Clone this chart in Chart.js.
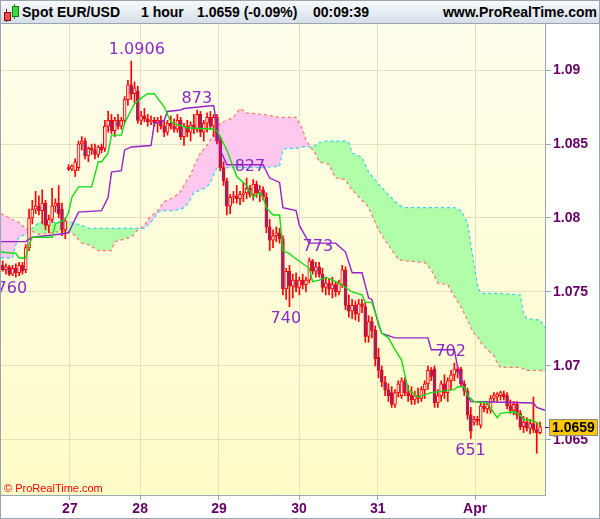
<!DOCTYPE html>
<html>
<head>
<meta charset="utf-8">
<script src="https://cdn.jsdelivr.net/npm/chart.js@4.4.1/dist/chart.umd.min.js"></script>
<style>
  html, body { margin: 0; padding: 0; background: #fff; }
  #wrap { position: relative; width: 600px; height: 519px; border: 1px solid #9aa5b0; box-sizing: border-box; overflow: hidden;
          font-family: "Liberation Sans", Arial, sans-serif; }
  #hdr { position: absolute; left: 0; top: 0; width: 598px; height: 22px; border-bottom: 1px solid #9aa5b0;
         background: linear-gradient(#f7fafc, #d5dfe9); }
  #hdr span.t { position: absolute; top: 3px; font-weight: bold; font-size: 14px; line-height: 16px; color: #000; white-space: nowrap; }
  #hdr i { position: absolute; display: block; }
  #plot { position: absolute; left: 0; top: 23px; width: 598px; height: 494px; }
  #copy { position: absolute; left: 3px; top: 481px; font-size: 11px; line-height: 13px; color: #ff0000; }
</style>
</head>
<body>
<div id="wrap">
  <div id="hdr">
    <i style="left:5px;top:8px;width:1px;height:13px;background:#8a1010"></i>
    <i style="left:3px;top:11px;width:5px;height:7px;background:#ef4b4b;border:1px solid #8a1010"></i>
    <i style="left:13px;top:3px;width:1px;height:15px;background:#137a13"></i>
    <i style="left:11px;top:5px;width:5px;height:9px;background:#3ddc3d;border:1px solid #137a13"></i>
    <span class="t" style="left:21px">Spot EUR/USD</span>
    <span class="t" style="left:140px">1 hour</span>
    <span class="t" style="left:196px">1.0659 (-0.09%)</span>
    <span class="t" style="left:312px">00:09:39</span>
    <span class="t" style="right:2px">www.ProRealTime.com</span>
  </div>
  <div id="plot"><canvas id="c" width="598" height="494"></canvas></div>
  <div id="copy">© ProRealTime.com</div>
</div>
<script>
// hourly candles, index 0..163
const opens  = [1.0768,1.0765,1.0767,1.0762,1.0766,1.0763,1.0768,1.0765,1.0780,1.0800,1.0806,1.0808,1.0805,1.0810,1.0795,1.0799,1.0808,1.0810,1.0806,1.0792,
  1.0834,1.0833,1.0832,1.0834,1.0850,1.0852,1.0842,1.0847,1.0846,1.0843,1.0848,1.0847,1.0862,1.0866,1.0859,1.0866,1.0862,1.0866,1.0880,1.0890,
  1.0884,1.0886,1.0866,1.0869,1.0867,1.0865,1.0866,1.0864,1.0866,1.0862,1.0858,1.0864,1.0862,1.0860,1.0866,1.0855,1.0862,1.0858,1.0863,1.0860,
  1.0870,1.0858,1.0864,1.0868,1.0862,1.0868,1.0852,1.0834,1.0825,1.0808,1.0814,1.0815,1.0813,1.0816,1.0817,1.0820,1.0816,1.0823,1.0817,1.0819,
  1.0814,1.0794,1.0785,1.0788,1.0790,1.0786,1.0752,1.0764,1.0754,1.0758,1.0753,1.0758,1.0755,1.0758,1.0771,1.0764,1.0767,1.0762,1.0753,1.0756,
  1.0752,1.0755,1.0750,1.0755,1.0765,1.0741,1.0737,1.0741,1.0735,1.0742,1.0740,1.0720,1.0730,1.0724,1.0706,1.0697,1.0689,1.0684,1.0682,1.0674,
  1.0682,1.0680,1.0690,1.0682,1.0680,1.0677,1.0680,1.0678,1.0684,1.0688,1.0697,1.0698,1.0675,1.0680,1.0688,1.0682,1.0690,1.0694,1.0698,1.0698,
  1.0688,1.0683,1.0667,1.0662,1.0664,1.0660,1.0673,1.0671,1.0670,1.0678,1.0679,1.0680,1.0681,1.0680,1.0673,1.0670,1.0674,1.0668,1.0659,1.0662,
  1.0658,1.0661,1.0657,1.0655];
const highs  = [1.0771,1.0769,1.0768,1.0768,1.0769,1.0770,1.0770,1.0782,1.0806,1.0812,1.0818,1.0815,1.0819,1.0812,1.0802,1.0820,1.0813,1.0822,1.0810,1.0800,
  1.0836,1.0836,1.0840,1.0852,1.0855,1.0854,1.0848,1.0850,1.0850,1.0849,1.0850,1.0866,1.0872,1.0870,1.0868,1.0870,1.0868,1.0882,1.0893,1.0906,
  1.0892,1.0889,1.0872,1.0874,1.0870,1.0869,1.0868,1.0868,1.0869,1.0866,1.0866,1.0869,1.0867,1.0870,1.0868,1.0864,1.0866,1.0865,1.0870,1.0873,
  1.0872,1.0866,1.0871,1.0872,1.0870,1.0870,1.0855,1.0838,1.0827,1.0816,1.0818,1.0822,1.0818,1.0824,1.0827,1.0822,1.0826,1.0825,1.0822,1.0821,
  1.0817,1.0799,1.0792,1.0794,1.0793,1.0788,1.0766,1.0768,1.0762,1.0763,1.0760,1.0762,1.0760,1.0773,1.0772,1.0770,1.0770,1.0766,1.0760,1.0759,
  1.0760,1.0757,1.0758,1.0768,1.0767,1.0748,1.0745,1.0744,1.0745,1.0745,1.0743,1.0734,1.0733,1.0727,1.0712,1.0700,1.0693,1.0688,1.0686,1.0684,
  1.0690,1.0692,1.0692,1.0687,1.0686,1.0683,1.0685,1.0686,1.0690,1.0700,1.0699,1.0700,1.0684,1.0690,1.0694,1.0692,1.0697,1.0702,1.0700,1.0699,
  1.0690,1.0685,1.0672,1.0666,1.0666,1.0675,1.0675,1.0676,1.0680,1.0682,1.0682,1.0683,1.0683,1.0682,1.0677,1.0676,1.0676,1.0670,1.0666,1.0665,
  1.0664,1.0679,1.0662,1.0662];
const lows   = [1.0764,1.0762,1.0761,1.0761,1.0760,1.0761,1.0762,1.0763,1.0778,1.0796,1.0803,1.0802,1.0796,1.0792,1.0790,1.0797,1.0804,1.0800,1.0788,1.0786,
  1.0832,1.0832,1.0828,1.0832,1.0846,1.0840,1.0838,1.0843,1.0840,1.0841,1.0844,1.0845,1.0858,1.0857,1.0855,1.0860,1.0860,1.0864,1.0876,1.0880,
  1.0878,1.0864,1.0863,1.0865,1.0862,1.0863,1.0862,1.0858,1.0860,1.0855,1.0856,1.0860,1.0858,1.0858,1.0853,1.0849,1.0855,1.0852,1.0857,1.0858,
  1.0855,1.0852,1.0858,1.0860,1.0855,1.0850,1.0832,1.0822,1.0802,1.0803,1.0810,1.0810,1.0809,1.0811,1.0813,1.0814,1.0812,1.0814,1.0811,1.0812,
  1.0790,1.0778,1.0780,1.0784,1.0783,1.0748,1.0745,1.0740,1.0746,1.0750,1.0748,1.0752,1.0750,1.0756,1.0762,1.0760,1.0760,1.0750,1.0748,1.0748,
  1.0746,1.0747,1.0748,1.0753,1.0738,1.0733,1.0732,1.0731,1.0730,1.0736,1.0716,1.0716,1.0719,1.0700,1.0692,1.0686,1.0680,1.0676,1.0672,1.0672,
  1.0679,1.0678,1.0680,1.0676,1.0674,1.0674,1.0675,1.0676,1.0678,1.0684,1.0690,1.0672,1.0672,1.0676,1.0678,1.0676,1.0684,1.0690,1.0692,1.0686,
  1.0680,1.0664,1.0651,1.0660,1.0660,1.0658,1.0669,1.0668,1.0668,1.0676,1.0676,1.0677,1.0677,1.0671,1.0668,1.0667,1.0664,1.0657,1.0655,1.0656,
  1.0654,1.0655,1.0641,1.0654];
const closes = [1.0765,1.0767,1.0762,1.0766,1.0763,1.0768,1.0764,1.0780,1.0800,1.0806,1.0808,1.0805,1.0810,1.0795,1.0799,1.0808,1.0810,1.0803,1.0792,1.0798,
  1.0833,1.0835,1.0838,1.0850,1.0852,1.0842,1.0847,1.0846,1.0843,1.0848,1.0846,1.0862,1.0866,1.0859,1.0866,1.0862,1.0866,1.0880,1.0890,1.0884,
  1.0888,1.0866,1.0869,1.0867,1.0865,1.0866,1.0864,1.0866,1.0862,1.0858,1.0864,1.0862,1.0860,1.0866,1.0855,1.0862,1.0858,1.0863,1.0860,1.0870,
  1.0858,1.0864,1.0868,1.0862,1.0868,1.0852,1.0834,1.0825,1.0808,1.0814,1.0815,1.0813,1.0816,1.0817,1.0820,1.0816,1.0823,1.0817,1.0819,1.0814,
  1.0794,1.0785,1.0788,1.0790,1.0786,1.0752,1.0764,1.0754,1.0758,1.0753,1.0758,1.0755,1.0758,1.0771,1.0764,1.0767,1.0762,1.0753,1.0756,1.0752,
  1.0755,1.0750,1.0756,1.0765,1.0741,1.0737,1.0741,1.0735,1.0742,1.0740,1.0720,1.0730,1.0724,1.0705,1.0697,1.0689,1.0684,1.0680,1.0674,1.0682,
  1.0688,1.0690,1.0682,1.0680,1.0677,1.0680,1.0678,1.0684,1.0688,1.0697,1.0693,1.0675,1.0680,1.0688,1.0682,1.0690,1.0694,1.0698,1.0696,1.0688,
  1.0683,1.0667,1.0656,1.0664,1.0663,1.0673,1.0671,1.0674,1.0678,1.0680,1.0681,1.0682,1.0679,1.0673,1.0670,1.0674,1.0667,1.0659,1.0662,1.0658,
  1.0661,1.0657,1.0655,1.0659];

// Ichimoku lines (candle index, price)
const kijunIdx = [-0.5,7,9,17,20,23,30,32,33,36,37,39,45,46,49,50,54,55,64,65,66,68,79,81,84,85,89,90,93,101,104,106,109,111,112,114,115,119,129,130,137,138,140,142,161,162,164.5];
const kijunVal = [1.0784,1.0784,1.0787,1.0789,1.0790,1.0804,1.0805,1.0814,1.0831,1.0832,1.0846,1.0848,1.0849,1.0864,1.0866,1.0872,1.0873,1.0874,1.0876,1.0863,1.0846,1.0836,1.0836,1.0827,1.0824,1.0807,1.0805,1.0795,1.0783,1.0783,1.0777,1.0763,1.0763,1.0746,1.0745,1.0728,1.0722,1.0719,1.0719,1.0711,1.0711,1.0699,1.0685,1.0676,1.0675,1.0672,1.0670];
const tenkanIdx = [-0.5,4,5,7,8,9,15,16,19,20,21,23,27,29,30,32,33,36,37,39,40,42,44,46,47,49,50,51,53,56,64,65,66,68,71,74,76,77,78,79,80,82,84,85,87,88,93,94,96,98,100,102,106,109,110,112,114,115,117,119,121,123,126,130,137,138,140,141,143,147,150,151,155,157,158,161,163];
const tenkanVal = [1.0777,1.0776,1.0773,1.0773,1.0782,1.0787,1.0787,1.0796,1.0799,1.0804,1.0814,1.0821,1.0821,1.0838,1.0838,1.0844,1.0856,1.0856,1.0864,1.0873,1.0877,1.0881,1.0884,1.0884,1.0881,1.0875,1.0870,1.0865,1.0863,1.0861,1.0860,1.0859,1.0855,1.0846,1.0828,1.0822,1.0814,1.0816,1.0817,1.0814,1.0807,1.0802,1.0802,1.0778,1.0776,1.0774,1.0766,1.0757,1.0758,1.0760,1.0758,1.0756,1.0750,1.0748,1.0743,1.0743,1.0729,1.0722,1.0719,1.0711,1.0704,1.0684,1.0679,1.0682,1.0684,1.0686,1.0686,1.0680,1.0676,1.0675,1.0665,1.0668,1.0669,1.0667,1.0664,1.0663,1.0660];
const cloudIdx = [-0.5,3,4,5,7,9,11,18,21,24,26,29,33,34,39,41,43,44,46,47,49,52,54,55,56,57,58,60,62,63,64,65,66,70,72,74,79,84,85,86,89,91,92,93,95,96,98,99,101,104,105,106,109,110,111,114,116,120,122,128,130,132,135,137,139,141,142,143,144,145,147,149,150,151,157,158,159,163,164.5];
const spanA = [1.0773,1.0773,1.0782,1.0787,1.0789,1.0793,1.0797,1.0797,1.0797,1.0795,1.0793,1.0793,1.0793,1.0793,1.0793,1.0793,1.0793,1.0795,1.0800,1.0804,1.0805,1.0805,1.0806,1.0807,1.0809,1.0813,1.0817,1.0819,1.0821,1.0824,1.0829,1.0834,1.0834,1.0834,1.0834,1.0834,1.0834,1.0835,1.0846,1.0847,1.0847,1.0848,1.0848,1.0848,1.0849,1.0851,1.0852,1.0852,1.0852,1.0852,1.0851,1.0844,1.0841,1.0836,1.0831,1.0823,1.0818,1.0809,1.0807,1.0807,1.0807,1.0807,1.0807,1.0807,1.0805,1.0797,1.0782,1.0768,1.0755,1.0749,1.0749,1.0749,1.0749,1.0749,1.0748,1.0735,1.0732,1.0731,1.0726];
const spanB = [1.0803,1.0799,1.0798,1.0797,1.0793,1.0791,1.0789,1.0791,1.0790,1.0783,1.0782,1.0778,1.0778,1.0784,1.0787,1.0792,1.0795,1.0799,1.0803,1.0805,1.0811,1.0814,1.0818,1.0822,1.0826,1.0829,1.0835,1.0844,1.0849,1.0853,1.0857,1.0861,1.0864,1.0868,1.0874,1.0871,1.0870,1.0868,1.0868,1.0868,1.0868,1.0860,1.0853,1.0849,1.0843,1.0838,1.0837,1.0836,1.0827,1.0826,1.0822,1.0819,1.0812,1.0810,1.0807,1.0792,1.0785,1.0772,1.0771,1.0770,1.0765,1.0756,1.0755,1.0747,1.0740,1.0731,1.0726,1.0722,1.0720,1.0716,1.0711,1.0707,1.0702,1.0699,1.0699,1.0698,1.0697,1.0697,1.0696];

// swing high / low annotations
const noteText  = ['760', '1.0906', '873', '827', '740', '773', '702', '651'];
const noteIdx   = [2.8, 40.7, 58.9, 75, 85.9, 95.6, 135.9, 141.9];
const notePrice = [1.0760, 1.0906, 1.0873, 1.0827, 1.0740, 1.0773, 1.0702, 1.0651];
const noteAbove = [false, true, true, true, false, true, true, false];

// axes
const dayIdx = [20.4, 41.7, 65.6, 89.9, 113.8, 143.3];
const dayLabels = ['27', '28', '29', '30', '31', 'Apr'];
const yTicks = [1.065, 1.07, 1.075, 1.08, 1.085, 1.09];
const yTickLabels = ['1.065', '1.07', '1.075', '1.08', '1.085', '1.09'];
const yMin = 1.06128, yMax = 1.09311;

const frame = '#9aa5b0';
const gridCol = '#e3dfbf';
const axisFont = { family: '"Liberation Sans", Arial, sans-serif', size: 14, weight: 'bold' };

const wickData = opens.map((o, i) => ({ x: i, y: [lows[i], highs[i]] }));
const bodyData = opens.map((o, i) => ({ x: i, y: [o, closes[i]] }));
const bodyFill = opens.map((o, i) => closes[i] >= o ? 'rgba(255,255,240,0.9)' : '#7d2a8e');
const pts = (xs, ys) => xs.map((x, k) => ({ x, y: ys[k] }));

const bgPlugin = {
  id: 'bg',
  beforeDraw(chart) {
    const { ctx, chartArea: a } = chart;
    const g = ctx.createLinearGradient(0, a.top, 0, a.bottom);
    g.addColorStop(0, '#fefeec');
    g.addColorStop(1, '#fffcc8');
    ctx.save();
    ctx.fillStyle = g;
    ctx.fillRect(a.left, a.top, a.right - a.left, a.bottom - a.top);
    ctx.restore();
  }
};

const notesPlugin = {
  id: 'notes',
  afterDatasetsDraw(chart) {
    const { ctx, chartArea: a, scales: { x, y } } = chart;
    ctx.save();
    ctx.beginPath();
    ctx.rect(a.left, a.top, a.right - a.left, a.bottom - a.top);
    ctx.clip();
    ctx.font = '16px "DejaVu Sans", sans-serif';
    ctx.fillStyle = '#8a2bc8';
    ctx.textAlign = 'center';
    ctx.textBaseline = 'middle';
    noteText.forEach((t, k) => {
      const py = y.getPixelForValue(notePrice[k]) + (noteAbove[k] ? -11 : 12);
      ctx.fillText(t, x.getPixelForValue(noteIdx[k]), py);
    });
    ctx.restore();
  },
  afterDraw(chart) {
    // last price tag on the right axis
    const { ctx, chartArea: a, scales: { y } } = chart;
    const last = closes[closes.length - 1];
    const py = Math.round(y.getPixelForValue(last)) + 0.5;
    ctx.save();
    ctx.strokeStyle = '#660066';
    ctx.beginPath(); ctx.moveTo(a.right, py); ctx.lineTo(a.right + 5, py); ctx.stroke();
    ctx.fillStyle = '#fbc800';
    ctx.fillRect(a.right + 4.5, py - 8, 48, 16);
    ctx.strokeStyle = '#8c8c8c';
    ctx.strokeRect(a.right + 4.5, py - 8, 48, 16);
    ctx.fillStyle = '#000';
    ctx.font = 'bold 14px "Liberation Sans", Arial, sans-serif';
    ctx.textAlign = 'left';
    ctx.textBaseline = 'middle';
    ctx.fillText(last.toFixed(4), a.right + 7, py + 1);
    ctx.restore();
  }
};

new Chart(document.getElementById('c'), {
  type: 'bar',
  data: {
    datasets: [
      { type: 'line', data: pts(cloudIdx, spanA), borderColor: '#2fd2f0', borderWidth: 1.2, borderDash: [3, 3],
        pointRadius: 0, order: 6, fill: { target: 1, above: '#b0ffa8', below: '#ffc8ee' } },
      { type: 'line', data: pts(cloudIdx, spanB), borderColor: '#ff7468', borderWidth: 1.2, borderDash: [3, 3],
        pointRadius: 0, order: 5, fill: false },
      { type: 'bar', data: wickData, backgroundColor: '#ff0000', borderWidth: 0, barThickness: 1, grouped: false, order: 4 },
      { type: 'bar', data: bodyData, backgroundColor: bodyFill, borderColor: '#ff0000', borderWidth: 1, borderSkipped: false,
        barThickness: 3, minBarLength: 1, grouped: false, order: 3 },
      { type: 'line', data: pts(kijunIdx, kijunVal), borderColor: '#9622cc', borderWidth: 1.4, pointRadius: 0, order: 2, fill: false },
      { type: 'line', data: pts(tenkanIdx, tenkanVal), borderColor: '#12dc12', borderWidth: 1.4, pointRadius: 0, order: 1, fill: false }
    ]
  },
  options: {
    responsive: false,
    animation: false,
    events: [],
    layout: { padding: 0 },
    plugins: { legend: { display: false }, tooltip: { enabled: false } },
    scales: {
      x: {
        type: 'linear', min: -0.5, max: 164.5, offset: false,
        afterBuildTicks: s => { s.ticks = dayIdx.map(v => ({ value: v })); },
        afterFit: s => { s.height = 23; s.paddingLeft = 0; s.paddingRight = 0; },
        ticks: { callback: (v, k) => dayLabels[k], font: axisFont, color: '#660066', padding: 1, maxRotation: 0, autoSkip: false },
        grid: { color: gridCol, offset: false, tickLength: 5, tickColor: frame },
        border: { color: frame }
      },
      y: {
        position: 'right', min: yMin, max: yMax,
        afterBuildTicks: s => { s.ticks = yTicks.map(v => ({ value: v })); },
        afterFit: s => { s.width = 54; s.paddingTop = 0; s.paddingBottom = 0; },
        ticks: { callback: (v, k) => yTickLabels[k], font: axisFont, color: '#660066', padding: 2 },
        grid: { color: gridCol, tickLength: 6, tickColor: frame },
        border: { color: frame }
      }
    }
  },
  plugins: [bgPlugin, notesPlugin]
});
</script>
</body>
</html>
